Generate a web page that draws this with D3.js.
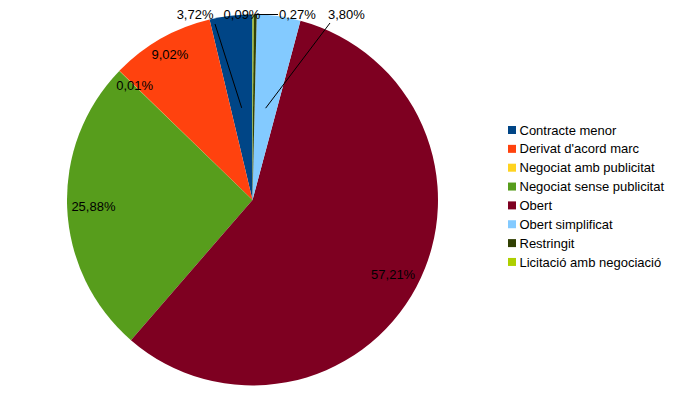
<!DOCTYPE html>
<html>
<head>
<meta charset="utf-8">
<script src="https://cdn.jsdelivr.net/npm/d3@7"></script>
<style>
  body { margin: 0; background: #fff; }
  svg { display: block; font-family: "Liberation Sans", Arial, sans-serif; }
</style>
</head>
<body>
<div id="chart"></div>
<script>
// Data
var categories = ["Contracte menor", "Derivat d'acord marc", "Negociat amb publicitat",
   "Negociat sense publicitat", "Obert", "Obert simplificat", "Restringit", "Licitació amb negociació"];
var values = [3.72, 9.02, 0.01, 25.88, 57.21, 3.80, 0.27, 0.09];
var colors = ["#004586", "#ff420e", "#ffd320", "#579d1c", "#7e0021", "#83caff", "#314004", "#aecf00"];

var width = 678, height = 394;
var cx = 252.5, cy = 200, radius = 185.5;

// small slices get their label pushed outside, above the pie
var outside = {
   "Contracte menor": { dx: -39, anchor: "end", line: "centroid", lx: -37.5, ly: 9.5 },
   "Licitació amb negociació": { dx: -10.5, anchor: "middle" },
   "Restringit": { dx: 26.5, anchor: "start", line: "edge", lx: 25.5, ly: 0 },
   "Obert simplificat": { dx: 75.5, anchor: "start", line: "centroid", lx: 77.5, ly: 8.5 }
};

var fmt = function (v) { return d3.format(".2f")(v).replace(".", ",") + "%"; };

var svg = d3.select("#chart").append("svg")
   .attr("width", width)
   .attr("height", height);

svg.append("rect").attr("width", width).attr("height", height).attr("fill", "#fff");

var color = d3.scaleOrdinal().domain(categories).range(colors);

// LibreOffice style: start at 12 o'clock and go counter-clockwise
var pie = d3.pie().sort(null).startAngle(0).endAngle(-2 * Math.PI);
var arcs = pie(values);
arcs.forEach(function (d, i) { d.cat = categories[i]; });

var arc = d3.arc().innerRadius(0).outerRadius(radius);

var g = svg.append("g").attr("transform", `translate(${cx}, ${cy})`);

g.selectAll("path")
   .data(arcs)
   .enter().append("path")
   .attr("d", arc)
   .attr("fill", function (d) { return color(d.cat); });

// Inside labels, pushed out to touch the rim
arcs.filter(function (d) { return !outside[d.cat]; }).forEach(function (d) {
   var t = g.append("text")
      .attr("font-size", "13px")
      .attr("fill", "#000")
      .attr("text-anchor", "middle")
      .attr("dy", "0.35em")
      .text(fmt(d.value));
   var w = t.node().getComputedTextLength();
   var a = (d.startAngle + d.endAngle) / 2;
   var dist = radius - (Math.abs(Math.sin(a)) * w / 2 + Math.abs(Math.cos(a)) * 6) - 4;
   t.attr("x", Math.sin(a) * dist).attr("y", -Math.cos(a) * dist);
});

// Outside labels with leader lines
arcs.filter(function (d) { return outside[d.cat]; }).forEach(function (d) {
   var o = outside[d.cat];
   var a = (d.startAngle + d.endAngle) / 2;
   if (o.line) {
      var p0 = o.line === "centroid" ? arc.centroid(d) : [Math.sin(a) * radius, -Math.cos(a) * radius];
      g.append("line")
         .attr("x1", p0[0]).attr("y1", p0[1])
         .attr("x2", o.lx).attr("y2", -radius + o.ly)
         .attr("stroke", "#000")
         .attr("stroke-width", 1);
   }
   g.append("text")
      .attr("x", o.dx)
      .attr("y", -radius)
      .attr("dy", "0.35em")
      .attr("font-size", "13px")
      .attr("fill", "#000")
      .attr("text-anchor", o.anchor)
      .text(fmt(d.value));
});

// Legend
var legend = svg.append("g").attr("transform", "translate(508, 130)");
var row = d3.scalePoint().domain(categories).range([0, 7 * 18.85]);

var item = legend.selectAll("g")
   .data(categories)
   .enter().append("g")
   .attr("transform", function (d) { return `translate(0, ${row(d)})`; });

item.append("rect")
   .attr("x", 0).attr("y", -4)
   .attr("width", 8).attr("height", 8)
   .attr("fill", function (d) { return color(d); });

item.append("text")
   .attr("x", 11.5)
   .attr("dy", "0.35em")
   .attr("font-size", "13px")
   .attr("fill", "#000")
   .text(function (d) { return d; });
</script>
</body>
</html>
